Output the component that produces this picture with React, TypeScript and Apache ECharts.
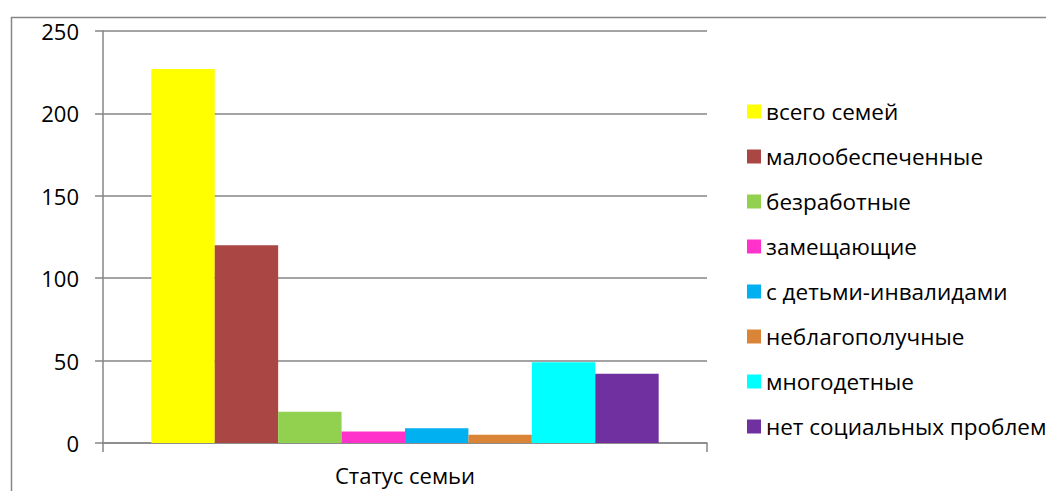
import React, { useEffect, useRef } from "react";
import * as echarts from "echarts";

const categories = ["Статус семьи"];
const seriesNames = [
  "всего семей",
  "малообеспеченные",
  "безработные",
  "замещающие",
  "с детьми-инвалидами",
  "неблагополучные",
  "многодетные",
  "нет социальных проблем",
];
const seriesValues = [227, 120, 19, 7, 9, 5, 49, 42];
const seriesColors = [
  "#FFFF00",
  "#AA4643",
  "#92D050",
  "#FF33CC",
  "#00B0F0",
  "#DA8438",
  "#00FFFF",
  "#7030A0",
];

const FONT = "'Open Sans', 'Noto Sans', sans-serif";

export default function App() {
  const ref = useRef<HTMLDivElement>(null);
  useEffect(() => {
    if (!ref.current) return;
    const chart = echarts.init(ref.current, null, { renderer: "svg" });
    chart.setOption({
      animation: false,
      textStyle: { fontFamily: FONT },
      graphic: [
        {
          type: "rect",
          left: 1,
          top: 7,
          shape: { width: 1100, height: 600 },
          style: { fill: "none", stroke: "#868686", lineWidth: 1.5 },
          silent: true,
        },
      ],
      grid: { left: 95, top: 23, right: 347, bottom: 48, containLabel: false },
      legend: {
        orient: "vertical",
        left: 734,
        top: 87,
        itemWidth: 14,
        itemHeight: 14,
        itemGap: 22,
        icon: "rect",
        textStyle: { fontFamily: FONT, fontSize: 22.5, color: "#000", lineHeight: 23 },
        data: seriesNames,
      },
      xAxis: {
        type: "category",
        data: categories,
        axisLine: { lineStyle: { color: "#868686", width: 1.5 } },
        axisTick: { show: true, length: 9, lineStyle: { color: "#868686", width: 1.5 } },
        axisLabel: { color: "#000", fontSize: 22, margin: 21, fontFamily: FONT },
      },
      yAxis: {
        type: "value",
        min: 0,
        max: 250,
        interval: 50,
        axisLine: { show: true, lineStyle: { color: "#868686", width: 1.5 } },
        axisTick: { show: true, length: 8, lineStyle: { color: "#868686", width: 1.5 } },
        splitLine: { lineStyle: { color: "#868686", width: 1.5 } },
        axisLabel: { color: "#000", fontSize: 22, margin: 24, fontFamily: FONT },
      },
      series: seriesNames.map((name, i) => ({
        name,
        type: "bar",
        data: [seriesValues[i]],
        itemStyle: { color: seriesColors[i] },
        barGap: "0%",
        barCategoryGap: "16%",
      })),
    });
    return () => chart.dispose();
  }, []);
  return <div ref={ref} style={{ width: 1046, height: 483 }} />;
}
